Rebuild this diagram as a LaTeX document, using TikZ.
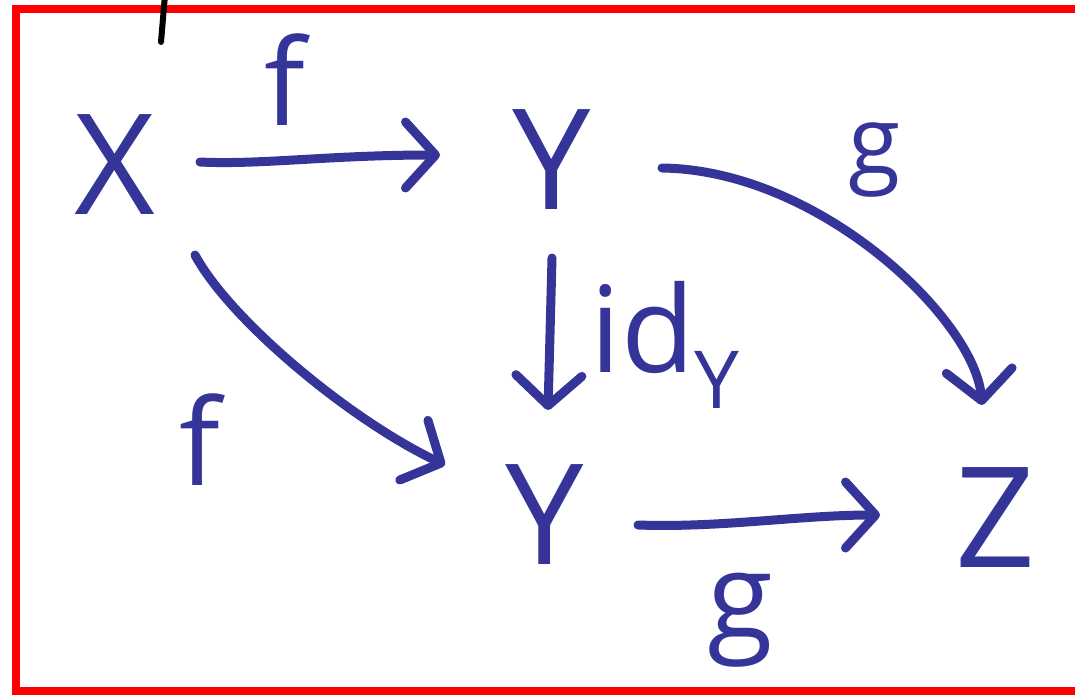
\documentclass[tikz,border=0pt]{standalone}
\usepackage{fontspec}
\setmainfont{Open Sans}
\usetikzlibrary{arrows.meta,calc}
\definecolor{ink}{RGB}{53,53,153}
\tikzset{
  lbl/.style={text=ink, inner sep=0pt, anchor=center},
  big/.style={lbl, font=\fontsize{140}{140}\selectfont},
  mid/.style={lbl, font=\fontsize{120}{120}\selectfont},
  small/.style={lbl, font=\fontsize{95}{95}\selectfont},
  arr/.style={draw=ink, line width=9pt, line cap=round, line join=round,
    -{Straight Barb[length=30pt,width=66pt,round]}},
}
\begin{document}
\begin{tikzpicture}[x=1pt,y=-1pt]
\useasboundingbox (0,0) rectangle (1075,696);
\begin{scope}
\clip (0,0) rectangle (1075,696);
\draw[red, line width=8pt] (1100,9) -- (16,9) -- (16,691) -- (1100,691);
\end{scope}
\draw[black, line width=6pt, line cap=round] (165,-5) -- (161,42);
% objects
\node[big] (X) at (115,165) {X};
\node[big] (Y1) at (552,160) {Y};
\node[big] (Y2) at (545,515) {Y};
\node[big] (Z) at (995,518) {Z};
% labels
\node[mid] (f1) at (285,80) {f};
\node[mid] (f2) at (200,440) {f};
\node[small] (g1) at (875,160) {g};
\node[mid] (g2) at (740,620) {g};
\node[mid] (id) at (665,345) {id\raisebox{-0.3em}{\fontsize{80}{80}\selectfont Y}};
% arrows
\draw[arr] ($(X)+(85,-3)$) .. controls (260,165) and (330,155) .. ($(Y1)+(-112,-5)$);
\draw[arr] ($(X)+(80,90)$) .. controls (230,320) and (350,420) .. ($(Y2)+(-100,-50)$);
\draw[arr] ($(Y1)+(0,98)$) -- ($(Y2)+(3,-105)$);
\draw[arr] ($(Y1)+(110,8)$) .. controls (820,170) and (975,320) .. ($(Z)+(-13,-113)$);
\draw[arr] ($(Y2)+(93,10)$) .. controls (720,528) and (800,515) .. ($(Z)+(-115,-3)$);
\end{tikzpicture}
\end{document}
